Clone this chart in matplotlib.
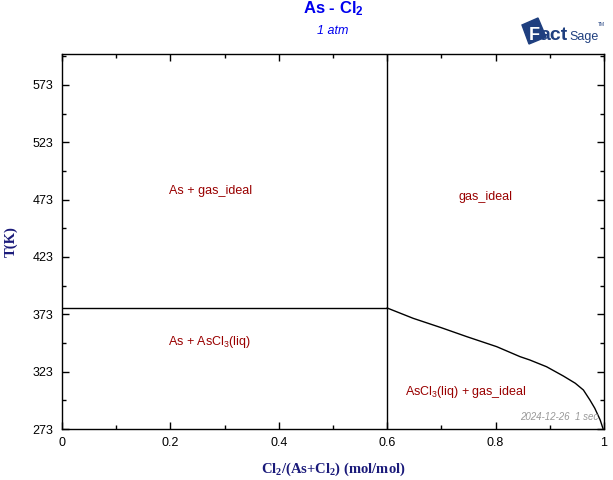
import matplotlib
matplotlib.use("Agg")
import matplotlib.pyplot as plt
from matplotlib.patches import Polygon
from matplotlib.ticker import MultipleLocator, FixedLocator

plt.rcParams['font.family'] = ['Liberation Sans', 'DejaVu Sans']
plt.rcParams['mathtext.default'] = 'regular'

# ---- data ----
x_limits = [0.0, 1.0]
t_limits = [273, 600]
x_ticks = [0, 0.2, 0.4, 0.6, 0.8, 1]
x_ticklabels = ['0', '0.2', '0.4', '0.6', '0.8', '1']
t_ticks = [273, 323, 373, 423, 473, 523, 573]
t_minor = [298, 348, 398, 448, 498, 548, 598]

# vertical line at AsCl3 composition
v_x = [0.6, 0.6]
v_t = [273, 600]
# horizontal line (As + AsCl3 boundary)
h_x = [0.0, 0.6]
h_t = [378.5, 378.5]
# dew curve
curve_x = [0.600, 0.648, 0.700, 0.747, 0.802, 0.845, 0.863, 0.894, 0.925,
           0.947, 0.962, 0.974, 0.983, 0.993, 0.998]
curve_t = [378.5, 369.5, 361.3, 353.5, 344.8, 336.1, 333.2, 327.3, 319.2,
           312.9, 307.0, 298.3, 291.1, 280.8, 273.6]

labels = ['As + gas_ideal', 'gas_ideal', 'As + AsCl$_3$(liq)', 'AsCl$_3$(liq) + gas_ideal']
label_x = [0.275, 0.781, 0.272, 0.745]
label_t = [480.5, 475.0, 349.0, 305.5]

fig = plt.figure(figsize=(6.13, 4.8), dpi=100)
ax = fig.add_axes([62/613, 1-429/480, (604-62)/613, (429-54)/480])

ax.plot(v_x, v_t, color='black', lw=1.0)
ax.plot(h_x, h_t, color='black', lw=1.0)
ax.plot(curve_x, curve_t, color='black', lw=1.0)

ax.set_xlim(x_limits)
ax.set_ylim(t_limits)
ax.xaxis.set_major_locator(FixedLocator(x_ticks))
ax.set_xticklabels(x_ticklabels)
ax.xaxis.set_minor_locator(MultipleLocator(0.1))
ax.yaxis.set_major_locator(FixedLocator(t_ticks))
ax.yaxis.set_minor_locator(FixedLocator(t_minor))
ax.tick_params(which='both', direction='in', top=True, right=True,
               labelsize=9, colors='black', width=1.0)
ax.tick_params(which='major', length=5, pad=6)
ax.tick_params(which='minor', length=3)
for s in ax.spines.values():
    s.set_linewidth(1.0)

for txt, lx, lt in zip(labels, label_x, label_t):
    ax.text(lx, lt, txt, color='#990000', fontsize=9, ha='center', va='center')

ax.set_xlabel('Cl$_2$/(As+Cl$_2$) (mol/mol)', family='Liberation Serif',
              fontweight='bold', fontsize=10.5, color='#1a1a7a', labelpad=8)
ax.set_ylabel('T(K)', family='Liberation Serif', fontweight='bold',
              fontsize=10.5, color='#1a1a7a', labelpad=11)

fig.text(333/613, 1-9/480, 'As - Cl$_2$', color='#0000ee', fontsize=12,
         fontweight='bold', ha='center', va='center')
fig.text(333/613, 1-31/480, '1 atm', color='#0000ee', fontsize=9,
         style='italic', ha='center', va='center')

ax.text(0.99, 0.02, '2024-12-26  1 sec', transform=ax.transAxes, color='#999999',
        fontsize=7, style='italic', ha='right', va='bottom')

# FactSage logo
logo_col = '#1f3f7f'
sq = Polygon([[522/613, 1-25/480], [538/613, 1-18/480], [546/613, 1-37/480],
              [529/613, 1-44/480]], closed=True, transform=fig.transFigure,
             color=logo_col)
fig.patches.append(sq)
fig.text(529/613, 1-40/480, 'F', color='white', fontsize=13, fontweight='bold',
         ha='left', va='baseline', family='Liberation Sans')
fig.text(539/613, 1-40/480, 'act', color=logo_col, fontsize=14, fontweight='heavy',
         ha='left', va='baseline', family='Liberation Sans')
fig.text(569/613, 1-40/480, 'Sage', color=logo_col, fontsize=9,
         ha='left', va='baseline', family='Liberation Sans')
fig.text(598/613, 1-25/480, 'TM', color=logo_col, fontsize=3.5,
         ha='left', va='center')

fig.savefig('out.png', dpi=100)
